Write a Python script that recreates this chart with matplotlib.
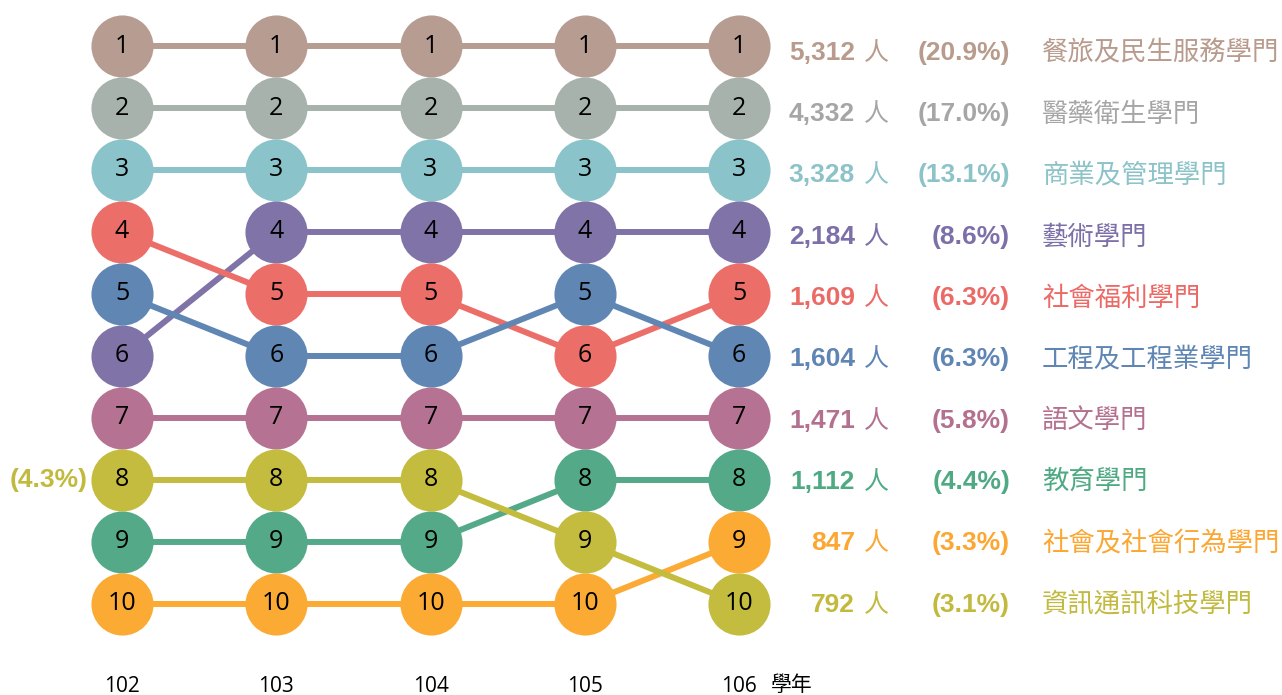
import matplotlib.pyplot as plt

plt.rcParams['font.family'] = ['Noto Sans CJK TC', 'DejaVu Sans']

# data
years = ['102', '103', '104', '105', '106']
categories = ['餐旅及民生服務學門', '醫藥衛生學門', '商業及管理學門', '藝術學門', '社會福利學門',
              '工程及工程業學門', '語文學門', '教育學門', '社會及社會行為學門', '資訊通訊科技學門']
ranks = [
    [1, 1, 1, 1, 1],
    [2, 2, 2, 2, 2],
    [3, 3, 3, 3, 3],
    [6, 4, 4, 4, 4],
    [4, 5, 5, 6, 5],
    [5, 6, 6, 5, 6],
    [7, 7, 7, 7, 7],
    [9, 9, 9, 8, 8],
    [10, 10, 10, 10, 9],
    [8, 8, 8, 9, 10],
]
counts = ['5,312', '4,332', '3,328', '2,184', '1,609', '1,604', '1,471', '1,112', '847', '792']
pcts = ['(20.9%)', '(17.0%)', '(13.1%)', '(8.6%)', '(6.3%)', '(6.3%)', '(5.8%)', '(4.4%)', '(3.3%)', '(3.1%)']
left_note = '(4.3%)'   # 資訊通訊科技學門 in 102

circle_colors = ['#b79c92', '#a8b2ac', '#8ac3ca', '#8073a8', '#ec6e68',
                 '#6086b4', '#b57292', '#54aa88', '#fbaa34', '#c3bc3e']
text_colors = ['#b89b8c', '#a6a6a6', '#8cc3c9', '#7d6fa8', '#ec6a66',
               '#5f85b4', '#b4708f', '#4faa84', '#fba732', '#c2ba3e']

num_font = ['Liberation Sans', 'DejaVu Sans']

fig = plt.figure(figsize=(12.82, 6.95), dpi=100)
ax = fig.add_axes([0, 0, 1, 1])
ax.set_xlim(-0.791, 7.520)
ax.set_ylim(11.468, 0.258)
ax.axis('off')

x = list(range(len(years)))
for i, cat in enumerate(categories):
    ax.plot(x, ranks[i], color=circle_colors[i], lw=4.3, zorder=1, solid_capstyle='butt')
    ax.scatter(x, ranks[i], s=2000, color=circle_colors[i], zorder=2, linewidths=0)
    for xi, r in zip(x, ranks[i]):
        ax.text(xi, r, str(r), ha='center', va='center', fontsize=18, color='black',
                zorder=3, family=['Open Sans', 'DejaVu Sans'])

    # right side labels at final rank (text rows sit slightly lower than circles)
    r_end = ranks[i][-1]
    ty = r_end + 0.11 - (r_end - 1) * 0.011
    ax.text(4.752, ty, counts[i], ha='right', va='center', fontsize=19,
            fontweight='bold', color=text_colors[i], family=num_font)
    ax.text(4.81, ty, '人', ha='left', va='center', fontsize=18, color=text_colors[i])
    ax.text(5.757, ty, pcts[i], ha='right', va='center', fontsize=19,
            fontweight='bold', color=text_colors[i], family=num_font)
    ax.text(5.964, ty, cat, ha='left', va='center', fontsize=19, color=text_colors[i])

# left note for 資訊通訊科技學門 in 102
idx = categories.index('資訊通訊科技學門')
ax.text(-0.22, ranks[idx][0], left_note, ha='right', va='center', fontsize=19,
        fontweight='bold', color=text_colors[idx], family=num_font)

# year labels
for xi, y in zip(x, years):
    ax.text(xi, 11.33, y, ha='center', va='center', fontsize=15, color='black',
            family=['Open Sans', 'DejaVu Sans'])
ax.text(4.208, 11.30, '學年', ha='left', va='center', fontsize=15, color='black')

fig.savefig('out.png', dpi=100)
